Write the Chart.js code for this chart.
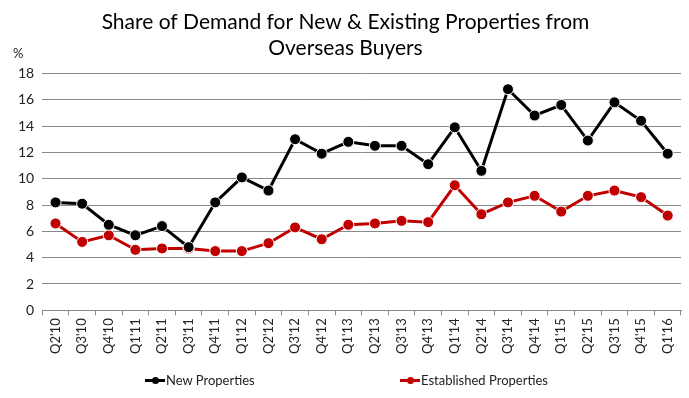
<!DOCTYPE html>
<html>
<head>
<meta charset="utf-8">
<script src="https://cdn.jsdelivr.net/npm/chart.js@4.4.1/dist/chart.umd.min.js"></script>
<style>
  html, body { margin: 0; padding: 0; background: #fff; }
  #wrap { position: relative; width: 689px; height: 398px; }
  #legend { position: absolute; top: 372px; left: 0; width: 689px; font: 13px Lato, sans-serif; color: #222; }
  .item { position: absolute; top: 0; white-space: nowrap; }
  .sw { display: inline-block; position: relative; width: 20px; height: 3px; vertical-align: middle; margin-right: 1px; top: -1px; }
  .sw i { position: absolute; left: 7px; top: -2px; width: 7px; height: 7px; border-radius: 50%; }
</style>
</head>
<body>
<div id="wrap">
  <canvas id="myChart1" width="689" height="398"></canvas>
  <div id="legend">
    <span class="item" style="left:145px"><span class="sw" style="background:#000"><i style="background:#000"></i></span>New Properties</span>
    <span class="item" style="left:400px"><span class="sw" style="background:#c00000"><i style="background:#c00000"></i></span>Established Properties</span>
  </div>
</div>
<script>
var quarters = ["Q2'10", "Q3'10", "Q4'10", "Q1'11", "Q2'11", "Q3'11", "Q4'11", "Q1'12", "Q2'12", "Q3'12", "Q4'12", "Q1'13",
                "Q2'13", "Q3'13", "Q4'13", "Q1'14", "Q2'14", "Q3'14", "Q4'14", "Q1'15", "Q2'15", "Q3'15", "Q4'15", "Q1'16"];
var newProps = [8.2, 8.1, 6.5, 5.7, 6.4, 4.8, 8.2, 10.1, 9.1, 13.0, 11.9, 12.8,
                12.5, 12.5, 11.1, 13.9, 10.6, 16.8, 14.8, 15.6, 12.9, 15.8, 14.4, 11.9];
var establishedProps = [6.6, 5.2, 5.7, 4.6, 4.7, 4.7, 4.5, 4.5, 5.1, 6.3, 5.4, 6.5,
                        6.6, 6.8, 6.7, 9.5, 7.3, 8.2, 8.7, 7.5, 8.7, 9.1, 8.6, 7.2];
var titleLines = ["Share of Demand for New & Existing Properties from", "Overseas Buyers"];

// little "%" above the y axis
var percentLabel = {
  id: 'percentLabel',
  afterDraw: function(chart) {
    var c = chart.ctx;
    c.save();
    c.font = '13px Lato, sans-serif';
    c.fillStyle = '#222';
    c.textAlign = 'left';
    c.textBaseline = 'middle';
    c.fillText('%', 13, chart.chartArea.top - 20);
    c.restore();
  }
};

var ctx = document.getElementById('myChart1').getContext('2d');
var LineGraph = new Chart(ctx, {
  type: 'line',
  data: {
    labels: quarters,
    datasets: [
      {
        label: "New Properties",
        data: newProps,
        fill: false,
        lineTension: 0,
        borderColor: '#000',
        backgroundColor: '#000',
        borderWidth: 3,
        pointRadius: 5.5,
        pointBorderColor: '#fff',
        pointBorderWidth: 1,
        pointBackgroundColor: '#000'
      },
      {
        label: "Established Properties",
        data: establishedProps,
        fill: false,
        lineTension: 0,
        borderColor: '#c00000',
        backgroundColor: '#c00000',
        borderWidth: 3,
        pointRadius: 5.5,
        pointBorderColor: '#fff',
        pointBorderWidth: 1,
        pointBackgroundColor: '#c00000'
      }
    ]
  },
  options: {
    responsive: false,
    animation: false,
    layout: { padding: { left: 10, right: 8, top: 4, bottom: 41 } },
    plugins: {
      legend: { display: false },
      tooltip: { enabled: false },
      title: {
        display: true,
        text: titleLines,
        color: '#000',
        font: { family: 'Lato, sans-serif', size: 21, weight: 'normal', lineHeight: 1.2 },
        padding: { top: 6, bottom: 13 }
      }
    },
    scales: {
      x: {
        offset: true,
        grid: { offset: true, drawOnChartArea: false, drawTicks: true, tickLength: 5, color: '#888' },
        border: { color: '#888' },
        ticks: { maxRotation: 90, minRotation: 90, color: '#222', font: { family: 'Lato, sans-serif', size: 13 }, padding: 3 }
      },
      y: {
        min: 0,
        max: 18,
        ticks: { stepSize: 2, color: '#222', font: { family: 'Lato, sans-serif', size: 14 }, padding: 8 },
        grid: { color: '#888', drawTicks: false, lineWidth: 1 },
        border: { display: false }
      }
    }
  },
  plugins: [percentLabel]
});
</script>
</body>
</html>
